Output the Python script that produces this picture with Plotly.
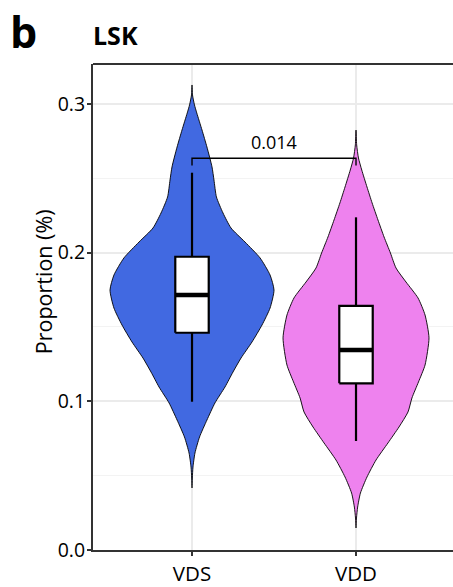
import plotly.graph_objects as go

# ---------------- data ----------------
groups = ["VDS", "VDD"]
group_pos = [1, 2]
fill_colors = ["#4169E1", "#EE82EE"]

# violin outline: proportion levels and half-widths (category units)
vds_y = [0.3127, 0.3060, 0.2993, 0.2939, 0.2824, 0.2710, 0.2576, 0.2488, 0.2374,
         0.2266, 0.2165, 0.2071, 0.1964, 0.1849, 0.1748, 0.1627, 0.1513, 0.1399,
         0.1291, 0.1197, 0.1096, 0.0989, 0.0874, 0.0760, 0.0652, 0.0558, 0.0484, 0.0417]
vds_hw = [0.0, 0.003, 0.015, 0.029, 0.061, 0.091, 0.122, 0.134, 0.149,
          0.189, 0.238, 0.323, 0.415, 0.476, 0.500, 0.476, 0.427, 0.366,
          0.299, 0.250, 0.201, 0.140, 0.091, 0.046, 0.018, 0.006, 0.002, 0.0]

vdd_y = [0.2824, 0.2724, 0.2636, 0.2555, 0.2441, 0.2334, 0.2219, 0.2105, 0.1997,
         0.1896, 0.1802, 0.1695, 0.1580, 0.1426, 0.1244, 0.1130, 0.1022, 0.0928,
         0.0827, 0.0720, 0.0605, 0.0491, 0.0383, 0.0289, 0.0215, 0.0148]
vdd_hw = [0.0, 0.004, 0.015, 0.035, 0.067, 0.098, 0.134, 0.171, 0.210,
          0.244, 0.305, 0.378, 0.421, 0.445, 0.421, 0.381, 0.341, 0.317,
          0.262, 0.195, 0.122, 0.067, 0.027, 0.010, 0.003, 0.0]

# box statistics
q1 = [0.1461, 0.1121]
median = [0.1715, 0.1345]
q3 = [0.1972, 0.1641]
whisker_lo = [0.0997, 0.0733]
whisker_hi = [0.2537, 0.2237]

# comparison bracket
p_label = "0.014"
bracket_y = 0.2634
bracket_tip = 0.2585

y_ticks = [0.0, 0.1, 0.2, 0.3]
y_tick_text = ["0.0", "0.1", "0.2", "0.3"]

panel_letter = "b"
panel_title = "LSK"
y_title = "Proportion (%)"

# ---------------- styling ----------------
FONT = "Open Sans"
BOX_W = 0.204
AXIS_COL = "#333333"

fig = go.Figure()


def add_line(xs, ys, width, color="black"):
    fig.add_trace(go.Scatter(x=xs, y=ys, mode="lines",
                             line=dict(color=color, width=width),
                             hoverinfo="skip", showlegend=False))


violin_data = [(vds_y, vds_hw), (vdd_y, vdd_hw)]
for pos, col, (ys, hws) in zip(group_pos, fill_colors, violin_data):
    xs = [pos - h for h in hws] + [pos + h for h in reversed(hws)]
    yy = list(ys) + list(reversed(ys))
    fig.add_trace(go.Scatter(x=xs, y=yy, mode="lines", fill="toself",
                             fillcolor=col,
                             line=dict(color="black", width=0.9, shape="spline", smoothing=0.6),
                             hoverinfo="skip", showlegend=False))

for i, pos in enumerate(group_pos):
    add_line([pos, pos], [q3[i], whisker_hi[i]], 2.2)
    add_line([pos, pos], [q1[i], whisker_lo[i]], 2.2)
    x0, x1 = pos - BOX_W / 2, pos + BOX_W / 2
    fig.add_trace(go.Scatter(x=[x0, x1, x1, x0, x0], y=[q1[i], q1[i], q3[i], q3[i], q1[i]],
                             mode="lines", fill="toself", fillcolor="white",
                             line=dict(color="black", width=2.2),
                             hoverinfo="skip", showlegend=False))
    add_line([x0, x1], [median[i], median[i]], 4.5)

# bracket
add_line([group_pos[0], group_pos[0], group_pos[1], group_pos[1]],
         [bracket_tip, bracket_y, bracket_y, bracket_tip], 1.4)
fig.add_annotation(x=(group_pos[0] + group_pos[1]) / 2, y=bracket_y, text=p_label,
                   showarrow=False, yanchor="bottom", yshift=2,
                   font=dict(family=FONT, size=18, color="black"))

# panel letter, title, y-axis title (paper units of a 374px-wide panel)
PW = 374.0
fig.add_annotation(xref="paper", yref="paper", x=-85 / PW, y=550 / 486, text=f"<b>{panel_letter}</b>",
                   showarrow=False, xanchor="left", yanchor="top",
                   font=dict(family=FONT, size=43, color="black"))
fig.add_annotation(xref="paper", yref="paper", x=-2 / PW, y=1.06, text=f"<b>{panel_title}</b>",
                   showarrow=False, xanchor="left", yanchor="middle",
                   font=dict(family=FONT, size=25, color="black"))
fig.add_annotation(xref="paper", yref="paper", x=-50 / PW, y=0.551, text=y_title,
                   textangle=-90, showarrow=False, xanchor="center", yanchor="middle",
                   font=dict(family=FONT, size=21.5, color="black"))

# top border of the panel
fig.add_shape(type="line", xref="paper", yref="paper", x0=0, x1=1, y0=1, y1=1,
              line=dict(color=AXIS_COL, width=2))

fig.update_xaxes(range=[0.3963, 2.6768], tickvals=group_pos, ticktext=groups,
                 showgrid=True, gridcolor="#EBEBEB", gridwidth=1.5,
                 showline=True, linecolor=AXIS_COL, linewidth=2,
                 ticks="outside", ticklen=4, tickwidth=1.5, tickcolor=AXIS_COL,
                 tickfont=dict(family=FONT, size=20.5, color="black"),
                 zeroline=False)
fig.update_yaxes(range=[0, 0.3268], tickvals=y_ticks, ticktext=y_tick_text,
                 showgrid=True, gridcolor="#EBEBEB", gridwidth=1.5,
                 minor=dict(dtick=0.05, tick0=0.05, showgrid=True,
                            gridcolor="#F3F3F3", gridwidth=1),
                 showline=True, linecolor=AXIS_COL, linewidth=2,
                 ticks="outside", ticklen=4, tickwidth=1.5, tickcolor=AXIS_COL,
                 ticklabelstandoff=-2,
                 tickfont=dict(family=FONT, size=19.5, color="black"),
                 zeroline=False)

# panel continues past the right edge of the 453px view (as in the reference crop)
fig.update_layout(width=475, height=587,
                  margin=dict(l=93, r=8, t=64, b=37, autoexpand=False),
                  plot_bgcolor="white", paper_bgcolor="white",
                  showlegend=False)

fig.write_html("out.html", include_plotlyjs=True, config={"displayModeBar": False},
               post_script="document.body.style.margin='0';document.body.style.overflow='hidden';")
